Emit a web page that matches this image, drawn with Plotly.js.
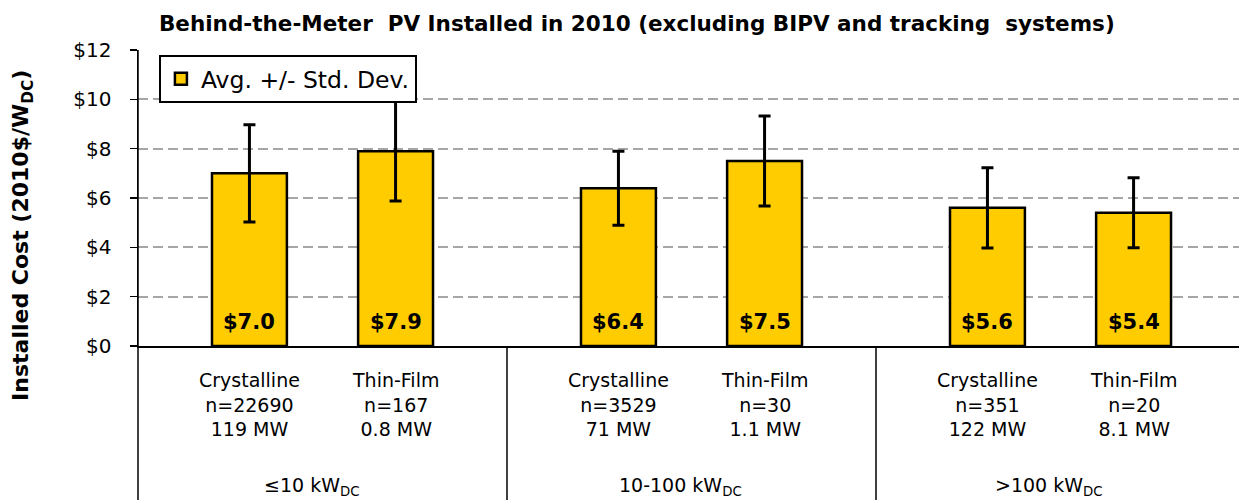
<!DOCTYPE html>
<html>
<head>
<meta charset="utf-8">
<script src="https://cdn.plot.ly/plotly-3.0.1.min.js"></script>
<style>html,body{margin:0;padding:0;background:#fff;}#chart{width:1239px;height:500px;}</style>
</head>
<body>
<div id="chart"></div>
<script>
// ---- data ----
const sizeGroups = ['≤10 kW<sub>DC</sub>', '10-100 kW<sub>DC</sub>', '>100 kW<sub>DC</sub>'];
const techTypes = ['Crystalline', 'Thin-Film'];
const barGroup = [0, 0, 1, 1, 2, 2];
const barTech = [0, 1, 0, 1, 0, 1];
const sampleCounts = ['22690', '167', '3529', '30', '351', '20'];
const capacityMW = ['119 MW', '0.8 MW', '71 MW', '1.1 MW', '122 MW', '8.1 MW'];
const avgCost = [7.0, 7.9, 6.4, 7.5, 5.6, 5.4];
const stdDev = [1.97, 2.02, 1.5, 1.82, 1.63, 1.42];
const valueLabels = ['$7.0', '$7.9', '$6.4', '$7.5', '$5.6', '$5.4'];
const yTicks = [0, 2, 4, 6, 8, 10, 12];
const yTickLabels = ['$0', '$2', '$4', '$6', '$8', '$10', '$12'];

// ---- layout helpers ----
const FONT = 'DejaVu Sans, Arial, sans-serif';
const OFFSET = 0.198;
const xPos = barGroup.map((g, i) => g + (barTech[i] === 0 ? -OFFSET : OFFSET));

const trace = {
  type: 'bar',
  x: xPos,
  y: avgCost,
  width: 0.203,
  name: 'Avg. +/- Std. Dev.',
  showlegend: true,
  marker: {color: '#FFCC00', line: {color: '#000000', width: 2.5}},
  error_y: {type: 'data', array: stdDev, visible: true, color: '#000000', thickness: 3, width: 6},
  hoverinfo: 'skip'
};

const annotations = [];
xPos.forEach((x, i) => {
  annotations.push({
    x: x, y: 0, xref: 'x', yref: 'y', yanchor: 'bottom', yshift: 10,
    text: valueLabels[i], showarrow: false,
    font: {family: FONT, size: 21, color: '#000', weight: 'bold'}
  });
  annotations.push({
    x: x, y: 0, xref: 'x', yref: 'paper', yanchor: 'top', yshift: -21,
    text: techTypes[barTech[i]] + '<br>n=' + sampleCounts[i] + '<br>' + capacityMW[i],
    showarrow: false,
    font: {family: FONT, size: 19, color: '#000'}
  });
});
sizeGroups.forEach((g, i) => {
  annotations.push({
    x: i - 0.03, y: 0, xref: 'x', yref: 'paper', yanchor: 'middle', yshift: -140,
    text: g, showarrow: false,
    font: {family: FONT, size: 19, color: '#000'}
  });
});
annotations.push({
  x: 0, y: 0.372, xref: 'paper', yref: 'paper', xshift: -115, xanchor: 'center', yanchor: 'middle',
  textangle: -90, text: 'Installed Cost (2010$/W<sub>DC</sub>)', showarrow: false,
  font: {family: FONT, size: 22, color: '#000', weight: 'bold'}
});

const shapes = [
  {type: 'line', xref: 'paper', yref: 'paper', x0: 0, x1: 0, y0: 1, y1: -0.53, line: {color: '#000', width: 1.5}},
  {type: 'line', xref: 'x', yref: 'paper', x0: 0.5, x1: 0.5, y0: 0, y1: -0.53, line: {color: '#000', width: 1.5}},
  {type: 'line', xref: 'x', yref: 'paper', x0: 1.5, x1: 1.5, y0: 0, y1: -0.53, line: {color: '#000', width: 1.5}}
];

const layout = {
  width: 1239, height: 500,
  margin: {l: 138, r: 0, t: 50, b: 154, pad: 0},
  paper_bgcolor: '#ffffff', plot_bgcolor: '#ffffff',
  font: {family: FONT, size: 20, color: '#000'},
  title: {
    text: 'Behind-the-Meter  PV Installed in 2010 (excluding BIPV and tracking  systems)',
    x: 0.514, xanchor: 'center', xref: 'container',
    y: 0.954, yanchor: 'middle', yref: 'container',
    font: {family: FONT, size: 21.5, color: '#000', weight: 'bold'}
  },
  xaxis: {
    range: [-0.5, 2.4837], showgrid: false, zeroline: false,
    showline: true, linecolor: '#000', linewidth: 1.5,
    showticklabels: false, ticks: '', fixedrange: true
  },
  yaxis: {
    range: [0, 12], tickvals: yTicks, ticktext: yTickLabels,
    showgrid: true, gridcolor: '#A6A6A6', gridwidth: 2, griddash: '10px,5px',
    zeroline: false, showline: true, linecolor: '#000', linewidth: 1.5,
    ticks: 'outside', ticklen: 7, tickwidth: 1.5, tickcolor: '#000',
    ticklabelstandoff: 14,
    tickfont: {family: FONT, size: 20, color: '#000'}, fixedrange: true
  },
  legend: {
    x: 0.019, y: 0.983, xanchor: 'left', yanchor: 'top',
    bgcolor: '#ffffff', bordercolor: '#000', borderwidth: 2,
    font: {family: FONT, size: 23.5, color: '#000'},
    itemwidth: 30, tracegroupgap: 0
  },
  annotations: annotations,
  shapes: shapes,
  bargap: 0
};

Plotly.newPlot('chart', [trace], layout, {displayModeBar: false, staticPlot: true});
</script>
</body>
</html>
